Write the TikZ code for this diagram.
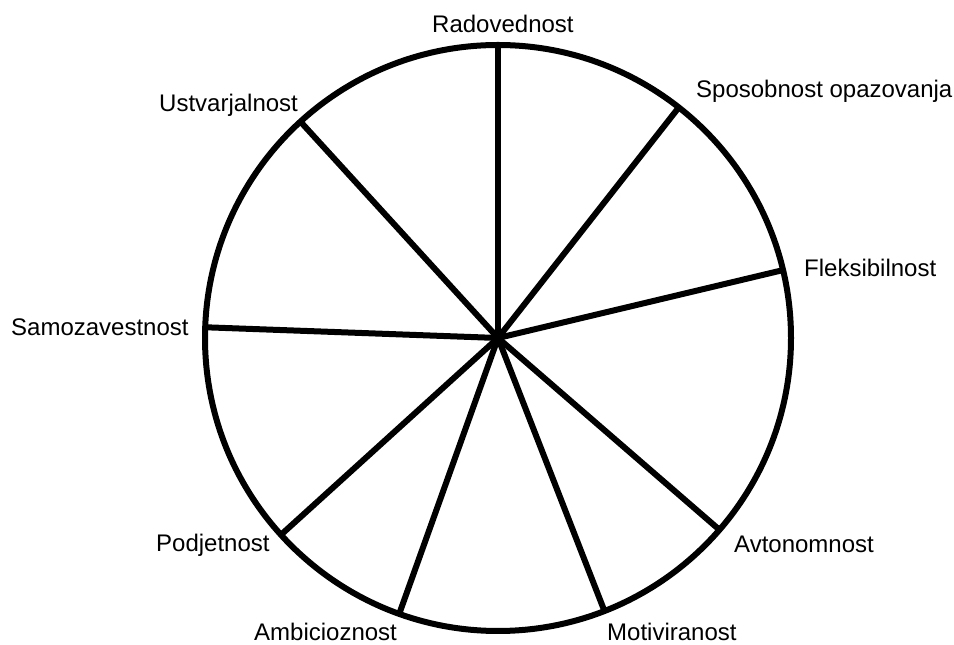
\documentclass[tikz,border=0pt]{standalone}
\usepackage{fontspec}
\setmainfont{Liberation Sans}
\usetikzlibrary{calc}
\begin{document}
\begin{tikzpicture}[x=1pt,y=1pt,
  spoke/.style={line width=6pt},
  rim/.style={line width=6pt},
  lbl/.style={inner sep=0pt,anchor=base west,font=\fontsize{24}{28}\selectfont}]
\useasboundingbox (0,0) rectangle (954,645);
\coordinate (c) at (498,307);
\def\R{293}
\foreach \n/\a in {rad/90,spo/51.9,fle/13.4,avt/-40.9,mot/-68.7,amb/-109.7,pod/-137.8,sam/177.9,ust/132.4}{
  \coordinate (\n) at ($(c)+(\a:\R)$);
}
\draw[rim] (c) circle (\R);
\foreach \n in {rad,spo,fle,avt,mot,amb,pod,sam,ust}{
  \draw[spoke] (c) -- (\n);
}
\node[lbl] (lrad) at (432,612) {Radovednost};
\node[lbl] (lspo) at (696,547) {Sposobnost opazovanja};
\node[lbl] (lust) at (159,533) {Ustvarjalnost};
\node[lbl] (lfle) at (804,368) {Fleksibilnost};
\node[lbl] (lsam) at (11,309) {Samozavestnost};
\node[lbl] (lavt) at (734,92) {Avtonomnost};
\node[lbl] (lmot) at (607,4) {Motiviranost};
\node[lbl] (lamb) at (254,4) {Ambicioznost};
\node[lbl] (lpod) at (156,93) {Podjetnost};
\end{tikzpicture}
\end{document}
